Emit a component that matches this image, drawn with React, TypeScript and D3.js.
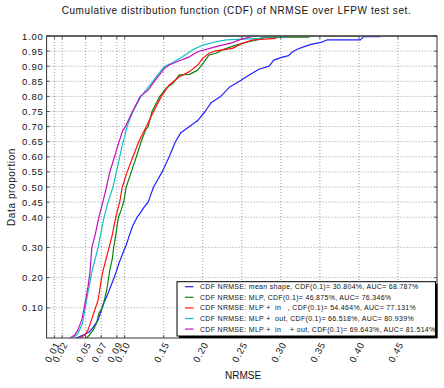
import React from 'react';
import * as d3 from 'd3';

// CDF curves: [NRMSE, data proportion]
const meanShape: [number, number][] = [
  [0.038, 0], [0.047, 0.01], [0.055, 0.021], [0.06, 0.037], [0.066, 0.06], [0.07, 0.09],
  [0.073, 0.115], [0.077, 0.137], [0.082, 0.17], [0.088, 0.21], [0.093, 0.25], [0.099, 0.29],
  [0.102, 0.308], [0.106, 0.34], [0.11, 0.37], [0.116, 0.4], [0.119, 0.41], [0.124, 0.43],
  [0.13, 0.45], [0.137, 0.5], [0.148, 0.55], [0.157, 0.6], [0.165, 0.65], [0.172, 0.68],
  [0.183, 0.7], [0.1935, 0.72], [0.203, 0.75], [0.211, 0.78], [0.223, 0.8], [0.234, 0.83],
  [0.247, 0.85], [0.259, 0.87], [0.272, 0.89], [0.285, 0.9], [0.291, 0.92], [0.302, 0.93],
  [0.31, 0.935], [0.315, 0.948], [0.321, 0.956], [0.33, 0.965], [0.34, 0.973], [0.353, 0.98],
  [0.359, 0.987], [0.402, 0.987], [0.406, 0.998], [0.427, 0.998], [0.427, 1.0],
];
const mlp: [number, number][] = [
  [0.051, 0], [0.055, 0.01], [0.0596, 0.026], [0.064, 0.049], [0.067, 0.082], [0.072, 0.104],
  [0.074, 0.126], [0.077, 0.159], [0.079, 0.192], [0.081, 0.225], [0.084, 0.26], [0.086, 0.3],
  [0.0885, 0.34], [0.092, 0.4], [0.095, 0.42], [0.0987, 0.45], [0.1, 0.469], [0.102, 0.5],
  [0.1085, 0.55], [0.115, 0.6], [0.121, 0.65], [0.127, 0.69], [0.13, 0.7], [0.135, 0.75],
  [0.145, 0.8], [0.153, 0.827], [0.1617, 0.843], [0.17, 0.871], [0.183, 0.873], [0.1935, 0.887],
  [0.202, 0.915], [0.208, 0.937], [0.217, 0.943], [0.225, 0.954], [0.2425, 0.97], [0.259, 0.981],
  [0.272, 0.989], [0.281, 0.996], [0.336, 0.996], [0.336, 1.0],
];
const mlpIn: [number, number][] = [
  [0.0426, 0], [0.049, 0.01], [0.053, 0.026], [0.0575, 0.06], [0.0617, 0.093], [0.064, 0.11],
  [0.066, 0.126], [0.068, 0.159], [0.07, 0.192], [0.072, 0.22], [0.076, 0.26], [0.08, 0.3],
  [0.084, 0.34], [0.0885, 0.4], [0.0936, 0.45], [0.097, 0.5], [0.1025, 0.545], [0.1106, 0.6],
  [0.118, 0.65], [0.1255, 0.689], [0.1277, 0.7], [0.137, 0.75], [0.147, 0.8], [0.157, 0.838],
  [0.17, 0.865], [0.183, 0.882], [0.1935, 0.904], [0.2, 0.926], [0.208, 0.943], [0.217, 0.951],
  [0.238, 0.959], [0.251, 0.976], [0.264, 0.987], [0.2935, 0.992], [0.2935, 1.0],
];
const mlpOut: [number, number][] = [
  [0.034, 0], [0.04, 0.015], [0.046, 0.049], [0.049, 0.093], [0.052, 0.137], [0.0545, 0.17],
  [0.0575, 0.214], [0.062, 0.26], [0.066, 0.3], [0.069, 0.341], [0.0736, 0.4], [0.0787, 0.45],
  [0.085, 0.5], [0.0894, 0.55], [0.0936, 0.6], [0.098, 0.65], [0.1, 0.665], [0.103, 0.7],
  [0.1106, 0.75], [0.121, 0.8], [0.136, 0.85], [0.151, 0.9], [0.16, 0.91], [0.174, 0.931],
  [0.187, 0.954], [0.2, 0.97], [0.217, 0.981], [0.23, 0.987], [0.272, 0.992], [0.281, 0.998],
  [0.307, 0.998], [0.307, 1.0],
];
const mlpInOut: [number, number][] = [
  [0.03, 0], [0.036, 0.01], [0.04, 0.026], [0.045, 0.06], [0.0477, 0.093], [0.05, 0.126],
  [0.053, 0.17], [0.0554, 0.214], [0.058, 0.3], [0.062, 0.34], [0.067, 0.4], [0.072, 0.45],
  [0.0767, 0.5], [0.081, 0.55], [0.087, 0.6], [0.0928, 0.65], [0.0978, 0.689], [0.101, 0.7],
  [0.11, 0.75], [0.12, 0.8], [0.13, 0.821], [0.138, 0.85], [0.151, 0.893], [0.157, 0.904],
  [0.17, 0.918], [0.183, 0.931], [0.1935, 0.948], [0.217, 0.965], [0.238, 0.978], [0.249, 0.989],
  [0.259, 0.996], [0.268, 1.0],
];

const curves = [meanShape, mlp, mlpIn, mlpOut, mlpInOut];
const colors = ['#2020ff', '#108010', '#ff1010', '#10c0c0', '#c010c0'];
const legendLabels = [
  'CDF NRMSE: mean shape, CDF(0.1)= 30.804%, AUC= 68.787%',
  'CDF NRMSE: MLP, CDF(0.1)= 46.875%, AUC= 76.346%',
  'CDF NRMSE: MLP +  in   , CDF(0.1)= 54.464%, AUC= 77.131%',
  'CDF NRMSE: MLP +  out, CDF(0.1)= 66.518%, AUC= 80.939%',
  'CDF NRMSE: MLP +  in    + out, CDF(0.1)= 69.643%, AUC= 81.514%',
];
const xTicks = [0.01, 0.02, 0.05, 0.07, 0.09, 0.1, 0.15, 0.2, 0.25, 0.3, 0.35, 0.4, 0.45];
const yTicks = [0.1, 0.2, 0.3, 0.4, 0.45, 0.5, 0.55, 0.6, 0.65, 0.7, 0.75, 0.8, 0.85, 0.9, 0.95, 1.0];

const width = 444;
const height = 388;
const font = '"Liberation Sans", Arial, sans-serif';

export default function App() {
  const left = 46.6, right = 437, top = 36, bottom = 338;
  const x = d3.scaleLinear().domain([0, 0.5]).range([left, right]);
  const y = d3.scaleLinear().domain([0, 1]).range([bottom, top]);
  const line = d3.line<[number, number]>().x(d => x(d[0])).y(d => y(d[1]));
  const fmt = d3.format('.2f');

  // legend box
  const lx = 177, ly = 281.7, lw = 258.5, lh = 54.3, rowH = 10.6;

  return (
    <svg width={width} height={height} style={{ position: 'absolute', left: 0, top: 0, background: '#fff' }}
      fontFamily={font}>
      <defs>
        <clipPath id="plot-clip">
          <rect x={left} y={top - 1} width={right - left} height={bottom - top + 1} />
        </clipPath>
      </defs>
      <rect x={left} y={top} width={right - left} height={bottom - top} fill="#fff" />

      {/* grid */}
      <g stroke="#808080" strokeWidth={0.8} strokeDasharray="1,2">
        {xTicks.map(t => <line key={'gx' + t} x1={x(t)} x2={x(t)} y1={top} y2={bottom} />)}
        {yTicks.map(t => <line key={'gy' + t} x1={left} x2={right} y1={y(t)} y2={y(t)} />)}
      </g>

      {/* curves */}
      <g clipPath="url(#plot-clip)" fill="none" strokeWidth={1.2} strokeLinejoin="round">
        {curves.map((c, i) => <path key={i} d={line(c) || ''} stroke={colors[i]} />)}
      </g>

      {/* frame + ticks */}
      <rect x={left} y={top} width={right - left} height={bottom - top} fill="none" stroke="#333" strokeWidth={1} />
      <line x1={left} x2={right} y1={top} y2={top} stroke="#555" strokeWidth={1.6} />
      <g stroke="#333" strokeWidth={0.8}>
        {xTicks.map(t => (
          <g key={'tx' + t}>
            <line x1={x(t)} x2={x(t)} y1={bottom} y2={bottom - 3} />
            <line x1={x(t)} x2={x(t)} y1={top} y2={top + 3} />
          </g>
        ))}
        {yTicks.map(t => (
          <g key={'ty' + t}>
            <line x1={left} x2={left + 3} y1={y(t)} y2={y(t)} />
            <line x1={right} x2={right - 3} y1={y(t)} y2={y(t)} />
          </g>
        ))}
      </g>

      {/* tick labels */}
      <g fontSize={9.5} fill="#111" letterSpacing={0.8}>
        {yTicks.map(t => (
          <text key={'ly' + t} x={left - 3} y={y(t) + 3.5} textAnchor="end">{fmt(t)}</text>
        ))}
        {xTicks.map(t => (
          <text key={'lx' + t} textAnchor="end"
            transform={`translate(${x(t) + 6},${bottom + 6}) rotate(-62)`}>{fmt(t)}</text>
        ))}
      </g>

      {/* titles */}
      <text x={236.5} y={14} fontSize={10} letterSpacing={0.6} textAnchor="middle" fill="#111">
        Cumulative distribution function (CDF) of NRMSE over LFPW test set.
      </text>
      <text x={243} y={379} fontSize={10} textAnchor="middle" fill="#111">NRMSE</text>
      <text transform={`translate(15,${(top + bottom) / 2}) rotate(-90)`} fontSize={10}
        letterSpacing={0.6} textAnchor="middle" fill="#111">Data proportion</text>

      {/* legend */}
      <rect x={lx + 2} y={ly + 2} width={lw} height={lh} fill="#000" />
      <rect x={lx} y={ly} width={lw} height={lh} fill="#fff" stroke="#000" strokeWidth={1} />
      {legendLabels.map((s, i) => {
        const ry = ly + 5 + rowH * i;
        return (
          <g key={'lg' + i}>
            <line x1={lx + 8} x2={lx + 16.5} y1={ry} y2={ry} stroke={colors[i]} strokeWidth={1.2} />
            <text x={lx + 23} y={ry + 2.5} fontSize={7} letterSpacing={0.3} fill="#111"
              style={{ whiteSpace: 'pre' }}>{s}</text>
          </g>
        );
      })}
    </svg>
  );
}
